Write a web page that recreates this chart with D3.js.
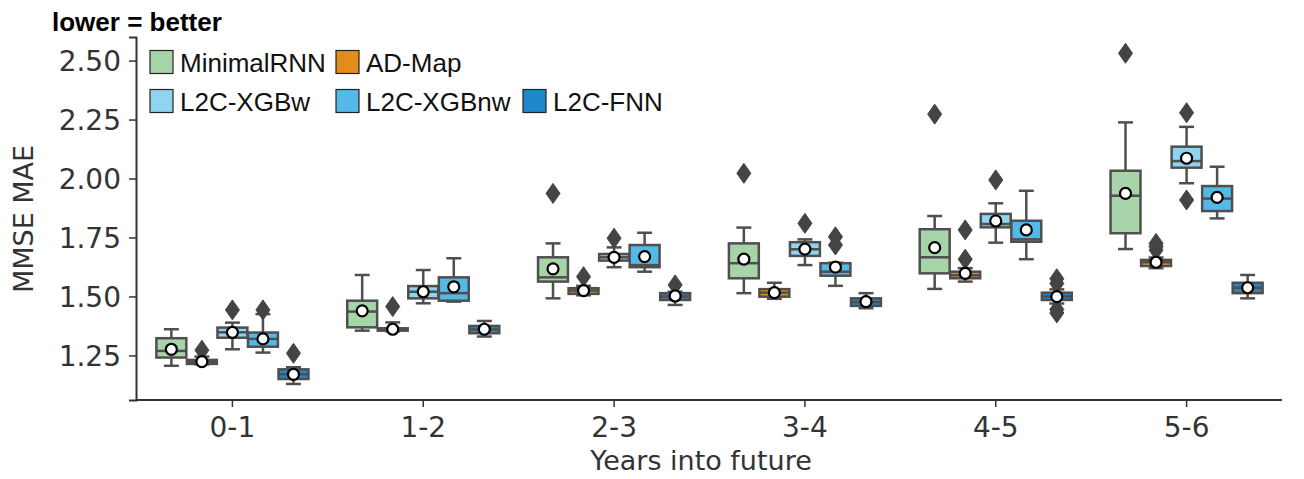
<!DOCTYPE html>
<html lang="en">
<head>
<meta charset="utf-8">
<title>MMSE MAE</title>
<script src="https://d3js.org/d3.v7.min.js"></script>
<style>
  body { margin: 0; background: white; }
  .tick text { font-family: "DejaVu Sans", sans-serif; font-size: 28px; fill: #333; }
  .lbl { font-family: "DejaVu Sans", sans-serif; font-size: 27px; fill: #333; }
  .leg text { font-family: "Liberation Sans", Arial, sans-serif; font-size: 26px; fill: #111; }
</style>
</head>
<body>
<script>
// categories and series
var years = ["0-1", "1-2", "2-3", "3-4", "4-5", "5-6"];
var models = ["MinimalRNN", "AD-Map", "L2C-XGBw", "L2C-XGBnw", "L2C-FNN"];
var colors = ["#a8d4aa", "#e28c1e", "#8fd4f0", "#54b9e6", "#1e88cc"];
var yTicks = [1.25, 1.50, 1.75, 2.00, 2.25, 2.50];

// per category: [whisker low, q1, median, q3, whisker high, mean]
var minimalRNN = [
  [1.206, 1.241, 1.269, 1.323, 1.361, 1.276],
  [1.355, 1.369, 1.436, 1.482, 1.591, 1.439],
  [1.492, 1.563, 1.581, 1.666, 1.725, 1.617],
  [1.514, 1.577, 1.641, 1.725, 1.792, 1.658],
  [1.532, 1.598, 1.666, 1.785, 1.841, 1.707],
  [1.701, 1.768, 1.927, 2.033, 2.238, 1.937]
];
var adMap = [
  [1.212, 1.214, 1.222, 1.231, 1.245, 1.224],
  [1.352, 1.355, 1.361, 1.365, 1.390, 1.361],
  [1.505, 1.511, 1.525, 1.535, 1.545, 1.525],
  [1.490, 1.499, 1.516, 1.531, 1.558, 1.516],
  [1.563, 1.577, 1.590, 1.605, 1.620, 1.598],
  [1.620, 1.629, 1.645, 1.655, 1.665, 1.645]
];
var xgbW = [
  [1.276, 1.325, 1.348, 1.368, 1.389, 1.348],
  [1.471, 1.492, 1.520, 1.544, 1.612, 1.520],
  [1.624, 1.652, 1.666, 1.680, 1.708, 1.666],
  [1.633, 1.672, 1.700, 1.730, 1.742, 1.701],
  [1.728, 1.793, 1.807, 1.850, 1.895, 1.820],
  [1.980, 2.046, 2.074, 2.135, 2.219, 2.086]
];
var xgbNw = [
  [1.262, 1.287, 1.320, 1.347, 1.425, 1.320],
  [1.478, 1.482, 1.514, 1.581, 1.662, 1.541],
  [1.605, 1.624, 1.633, 1.718, 1.770, 1.669],
  [1.545, 1.588, 1.605, 1.641, 1.643, 1.624],
  [1.658, 1.732, 1.742, 1.821, 1.948, 1.782],
  [1.831, 1.862, 1.915, 1.968, 2.050, 1.920]
];
var fnn = [
  [1.129, 1.150, 1.170, 1.191, 1.200, 1.170],
  [1.330, 1.344, 1.360, 1.375, 1.396, 1.361],
  [1.464, 1.485, 1.500, 1.514, 1.520, 1.502],
  [1.450, 1.460, 1.476, 1.492, 1.514, 1.478],
  [1.470, 1.485, 1.500, 1.516, 1.530, 1.499],
  [1.492, 1.514, 1.537, 1.558, 1.591, 1.537]
];

// outliers per category
var minimalOut = [[], [], [1.937], [2.022], [2.273], [2.531]];
var adMapOut = [[1.272], [1.457], [1.584], [], [1.658, 1.782], [1.697, 1.712, 1.725]];
var xgbWOut = [[1.443], [], [1.747], [1.810], [1.994], [2.279, 1.909]];
var xgbNwOut = [[1.443], [], [], [1.718, 1.753], [], []];
var fnnOut = [[1.259], [], [1.549], [], [1.575, 1.555, 1.445, 1.430], []];

var stats = [minimalRNN, adMap, xgbW, xgbNw, fnn];
var outs = [minimalOut, adMapOut, xgbWOut, xgbNwOut, fnnOut];

var width = 1304, height = 479;
var edge = "#4f4f4f";

var svg = d3.select("body").append("svg")
    .attr("width", width).attr("height", height);

var x = d3.scaleBand().domain(years).range([137, 1282]).padding(0);
var hue = d3.scaleBand().domain(models)
    .range([-0.4 * x.bandwidth(), 0.4 * x.bandwidth()]);
var y = d3.scaleLinear().domain([1.061, 2.60]).range([400, 37]);

var bw = hue.bandwidth() * 0.98;

// axes
var yAxis = svg.append("g").attr("transform", "translate(136,0)")
    .call(d3.axisLeft(y).tickValues(yTicks).tickFormat(d3.format(".2f"))
      .tickSizeOuter(0).tickSize(7).tickPadding(8));
var xAxis = svg.append("g").attr("transform", "translate(0,400)")
    .call(d3.axisBottom(x).tickSizeOuter(0).tickSize(7).tickPadding(10));
[yAxis, xAxis].forEach(function(a) {
  a.select(".domain").attr("stroke", "#333").attr("stroke-width", 2);
  a.selectAll(".tick line").attr("stroke", "#333").attr("stroke-width", 1.5);
});
xAxis.select(".domain").attr("d", "M136,0H1282");
yAxis.selectAll(".tick text").attr("dy", "0.36em");

svg.append("text").attr("class", "lbl")
    .attr("x", 701).attr("y", 470).attr("text-anchor", "middle")
    .text("Years into future");
svg.append("text").attr("class", "lbl")
    .attr("transform", "translate(33,219) rotate(-90)")
    .attr("text-anchor", "middle")
    .text("MMSE MAE");

svg.append("text")
    .attr("x", 52).attr("y", 31)
    .style("font-family", "'Liberation Sans', Arial, sans-serif")
    .style("font-weight", "bold").style("font-size", "26px")
    .text("lower = better");

// boxes
models.forEach(function(m, si) {
  var g = svg.append("g");
  stats[si].forEach(function(s, ci) {
    var cx = x(years[ci]) + x.bandwidth() / 2 + hue(m) + hue.bandwidth() / 2;
    var cap = bw / 4;
    g.append("line").attr("x1", cx).attr("x2", cx)
      .attr("y1", y(s[4])).attr("y2", y(s[3]))
      .attr("stroke", edge).attr("stroke-width", 2.5);
    g.append("line").attr("x1", cx).attr("x2", cx)
      .attr("y1", y(s[1])).attr("y2", y(s[0]))
      .attr("stroke", edge).attr("stroke-width", 2.5);
    [s[0], s[4]].forEach(function(v) {
      g.append("line").attr("x1", cx - cap).attr("x2", cx + cap)
        .attr("y1", y(v)).attr("y2", y(v))
        .attr("stroke", edge).attr("stroke-width", 2.5);
    });
    g.append("rect").attr("x", cx - bw / 2).attr("width", bw)
      .attr("y", y(s[3])).attr("height", Math.max(1, y(s[1]) - y(s[3])))
      .attr("fill", colors[si]).attr("stroke", edge).attr("stroke-width", 2.5);
    g.append("line").attr("x1", cx - bw / 2).attr("x2", cx + bw / 2)
      .attr("y1", y(s[2])).attr("y2", y(s[2]))
      .attr("stroke", edge).attr("stroke-width", 2.5);
    outs[si][ci].forEach(function(v) {
      var py = y(v);
      g.append("path")
        .attr("d", "M" + cx + "," + (py - 10) + "L" + (cx + 7) + "," + py +
              "L" + cx + "," + (py + 10) + "L" + (cx - 7) + "," + py + "Z")
        .attr("fill", "#444").attr("stroke", "#444").attr("stroke-width", 1);
    });
    g.append("circle").attr("cx", cx).attr("cy", y(s[5])).attr("r", 5.5)
      .attr("fill", "white").attr("stroke", "black").attr("stroke-width", 2.2);
  });
});

// legend
var legPos = [[150, 62], [336, 62], [150, 101], [336, 101], [523, 101]];
var leg = svg.append("g").attr("class", "leg");
models.forEach(function(m, i) {
  var p = legPos[i];
  leg.append("rect").attr("x", p[0]).attr("y", p[1] - 11.5)
    .attr("width", 23).attr("height", 23)
    .attr("fill", colors[i]).attr("stroke", "#222").attr("stroke-width", 1.2);
  leg.append("text").attr("x", p[0] + 30).attr("y", p[1] + 9.5).text(m);
});
</script>
</body>
</html>
